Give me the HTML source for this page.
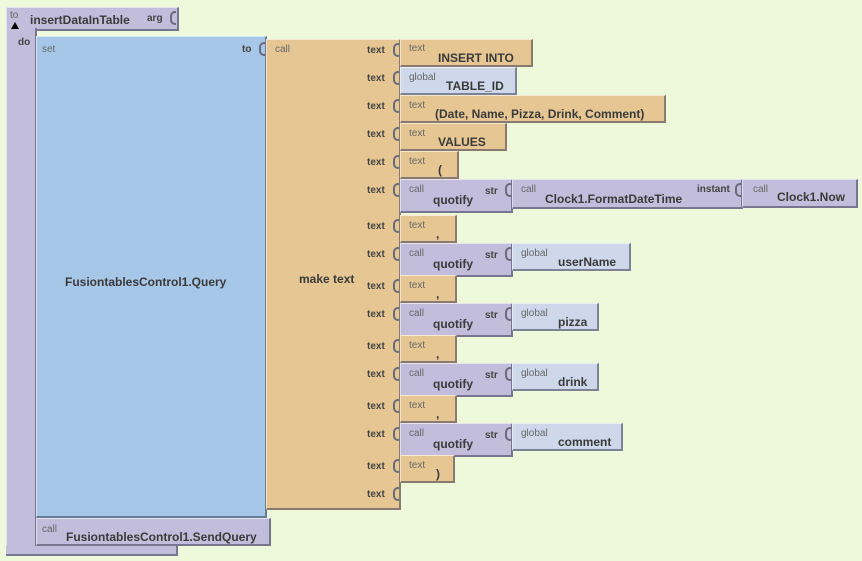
<!DOCTYPE html>
<html><head><style>
body{margin:0;width:862px;height:561px;background:#eef9dc;position:relative;overflow:hidden;font-family:"Liberation Sans",sans-serif}
.b{position:absolute;box-sizing:border-box;border-top:1px solid rgba(255,255,255,.6);border-left:1px solid rgba(255,255,255,.5);border-right:2px solid rgba(60,60,80,.55);border-bottom:2px solid rgba(60,60,80,.55)}
.p{background:#c2bdda}.bl{background:#a7c7e8}.t{background:#e6c794}.g{background:#cfd8ea}
.s{position:absolute;font-size:10px;color:#666}
.k{position:absolute;font-size:10px;font-weight:bold;color:#444}
.m{position:absolute;font-size:12px;font-weight:bold;color:#3a3a3a;white-space:nowrap}
.c{position:absolute;width:6px;height:14px;box-sizing:border-box;border:2px solid #6a6a7a;border-right:none;border-radius:5px 0 0 5px}
</style></head><body>
<!-- procedure -->
<div class="b p" style="left:6px;top:7px;width:173px;height:24px"></div>
<div class="b p" style="left:6px;top:28px;width:31px;height:528px;border-top:none"></div>
<div class="b p" style="left:6px;top:546px;width:172px;height:10px;border-top:none;border-left:none"></div>
<div class="s" style="left:10px;top:10px">to</div>
<div style="position:absolute;left:11px;top:22px;width:0;height:0;border-left:4px solid transparent;border-right:4px solid transparent;border-bottom:7px solid #000"></div>
<div class="m" style="left:30px;top:13px">insertDataInTable</div>
<div class="k" style="left:147px;top:13px">arg</div>
<div class="c" style="left:170px;top:11px"></div>
<div class="k" style="left:18px;top:37px">do</div>
<!-- set -->
<div class="b bl" style="left:36px;top:36px;width:231px;height:482px"></div>
<div class="s" style="left:42px;top:44px">set</div>
<div class="k" style="left:242px;top:44px">to</div>
<div class="m" style="left:65px;top:275px">FusiontablesControl1.Query</div>
<!-- make text -->
<div class="b t" style="left:266px;top:39px;width:135px;height:471px"></div>
<div class="c" style="left:259px;top:42px"></div>
<div class="s" style="left:275px;top:44px">call</div>
<div class="m" style="left:299px;top:272px">make text</div>
<div class="k" style="left:367px;top:45px">text</div><div class="c" style="left:393px;top:43px"></div>
<div class="k" style="left:367px;top:73px">text</div><div class="c" style="left:393px;top:71px"></div>
<div class="k" style="left:367px;top:101px">text</div><div class="c" style="left:393px;top:99px"></div>
<div class="k" style="left:367px;top:129px">text</div><div class="c" style="left:393px;top:127px"></div>
<div class="k" style="left:367px;top:157px">text</div><div class="c" style="left:393px;top:155px"></div>
<div class="k" style="left:367px;top:185px">text</div><div class="c" style="left:393px;top:183px"></div>
<div class="k" style="left:367px;top:221px">text</div><div class="c" style="left:393px;top:219px"></div>
<div class="k" style="left:367px;top:249px">text</div><div class="c" style="left:393px;top:247px"></div>
<div class="k" style="left:367px;top:281px">text</div><div class="c" style="left:393px;top:279px"></div>
<div class="k" style="left:367px;top:309px">text</div><div class="c" style="left:393px;top:307px"></div>
<div class="k" style="left:367px;top:341px">text</div><div class="c" style="left:393px;top:339px"></div>
<div class="k" style="left:367px;top:369px">text</div><div class="c" style="left:393px;top:367px"></div>
<div class="k" style="left:367px;top:401px">text</div><div class="c" style="left:393px;top:399px"></div>
<div class="k" style="left:367px;top:429px">text</div><div class="c" style="left:393px;top:427px"></div>
<div class="k" style="left:367px;top:461px">text</div><div class="c" style="left:393px;top:459px"></div>
<div class="k" style="left:367px;top:489px">text</div><div class="c" style="left:393px;top:487px"></div>
<!-- text blocks -->
<div class="b t" style="left:400px;top:39px;width:133px;height:28px"></div><div class="s" style="left:409px;top:43px">text</div><div class="m" style="left:438px;top:51px">INSERT INTO</div>
<div class="b g" style="left:400px;top:67px;width:117px;height:28px"></div><div class="s" style="left:409px;top:72px">global</div><div class="m" style="left:446px;top:79px">TABLE_ID</div>
<div class="b t" style="left:400px;top:95px;width:266px;height:28px"></div><div class="s" style="left:409px;top:100px">text</div><div class="m" style="left:435px;top:107px">(Date, Name, Pizza, Drink, Comment)</div>
<div class="b t" style="left:400px;top:123px;width:107px;height:28px"></div><div class="s" style="left:409px;top:128px">text</div><div class="m" style="left:438px;top:135px">VALUES</div>
<div class="b t" style="left:400px;top:151px;width:59px;height:28px"></div><div class="s" style="left:409px;top:156px">text</div><div class="m" style="left:438px;top:163px">(</div>
<!-- quotify clock -->
<div class="b p" style="left:400px;top:179px;width:113px;height:34px"></div><div class="s" style="left:409px;top:184px">call</div><div class="m" style="left:433px;top:193px">quotify</div><div class="k" style="left:485px;top:186px">str</div>
<div class="b p" style="left:512px;top:179px;width:231px;height:30px"></div><div class="c" style="left:505px;top:183px"></div><div class="s" style="left:521px;top:184px">call</div><div class="m" style="left:545px;top:192px">Clock1.FormatDateTime</div><div class="k" style="left:697px;top:184px">instant</div>
<div class="b p" style="left:742px;top:179px;width:116px;height:29px"></div><div class="c" style="left:735px;top:183px"></div><div class="s" style="left:753px;top:184px">call</div><div class="m" style="left:777px;top:190px">Clock1.Now</div>
<div class="b t" style="left:400px;top:215px;width:57px;height:28px"></div><div class="s" style="left:409px;top:220px">text</div><div class="m" style="left:436px;top:227px">,</div>
<!-- userName -->
<div class="b p" style="left:400px;top:243px;width:113px;height:34px"></div><div class="s" style="left:409px;top:248px">call</div><div class="m" style="left:433px;top:257px">quotify</div><div class="k" style="left:485px;top:250px">str</div>
<div class="b g" style="left:512px;top:243px;width:119px;height:28px"></div><div class="c" style="left:505px;top:247px"></div><div class="s" style="left:521px;top:248px">global</div><div class="m" style="left:558px;top:255px">userName</div>
<div class="b t" style="left:400px;top:275px;width:57px;height:28px"></div><div class="s" style="left:409px;top:280px">text</div><div class="m" style="left:436px;top:287px">,</div>
<!-- pizza -->
<div class="b p" style="left:400px;top:303px;width:113px;height:34px"></div><div class="s" style="left:409px;top:308px">call</div><div class="m" style="left:433px;top:317px">quotify</div><div class="k" style="left:485px;top:310px">str</div>
<div class="b g" style="left:512px;top:303px;width:87px;height:28px"></div><div class="c" style="left:505px;top:307px"></div><div class="s" style="left:521px;top:308px">global</div><div class="m" style="left:558px;top:315px">pizza</div>
<div class="b t" style="left:400px;top:335px;width:57px;height:28px"></div><div class="s" style="left:409px;top:340px">text</div><div class="m" style="left:436px;top:347px">,</div>
<!-- drink -->
<div class="b p" style="left:400px;top:363px;width:113px;height:34px"></div><div class="s" style="left:409px;top:368px">call</div><div class="m" style="left:433px;top:377px">quotify</div><div class="k" style="left:485px;top:370px">str</div>
<div class="b g" style="left:512px;top:363px;width:87px;height:28px"></div><div class="c" style="left:505px;top:367px"></div><div class="s" style="left:521px;top:368px">global</div><div class="m" style="left:558px;top:375px">drink</div>
<div class="b t" style="left:400px;top:395px;width:57px;height:28px"></div><div class="s" style="left:409px;top:400px">text</div><div class="m" style="left:436px;top:407px">,</div>
<!-- comment -->
<div class="b p" style="left:400px;top:423px;width:113px;height:34px"></div><div class="s" style="left:409px;top:428px">call</div><div class="m" style="left:433px;top:437px">quotify</div><div class="k" style="left:485px;top:430px">str</div>
<div class="b g" style="left:512px;top:423px;width:111px;height:28px"></div><div class="c" style="left:505px;top:427px"></div><div class="s" style="left:521px;top:428px">global</div><div class="m" style="left:558px;top:435px">comment</div>
<div class="b t" style="left:400px;top:455px;width:55px;height:28px"></div><div class="s" style="left:409px;top:460px">text</div><div class="m" style="left:436px;top:467px">)</div>
<!-- send query -->
<div class="b p" style="left:36px;top:518px;width:235px;height:28px"></div>
<div class="s" style="left:42px;top:524px">call</div>
<div class="m" style="left:66px;top:530px">FusiontablesControl1.SendQuery</div>
</body></html>
